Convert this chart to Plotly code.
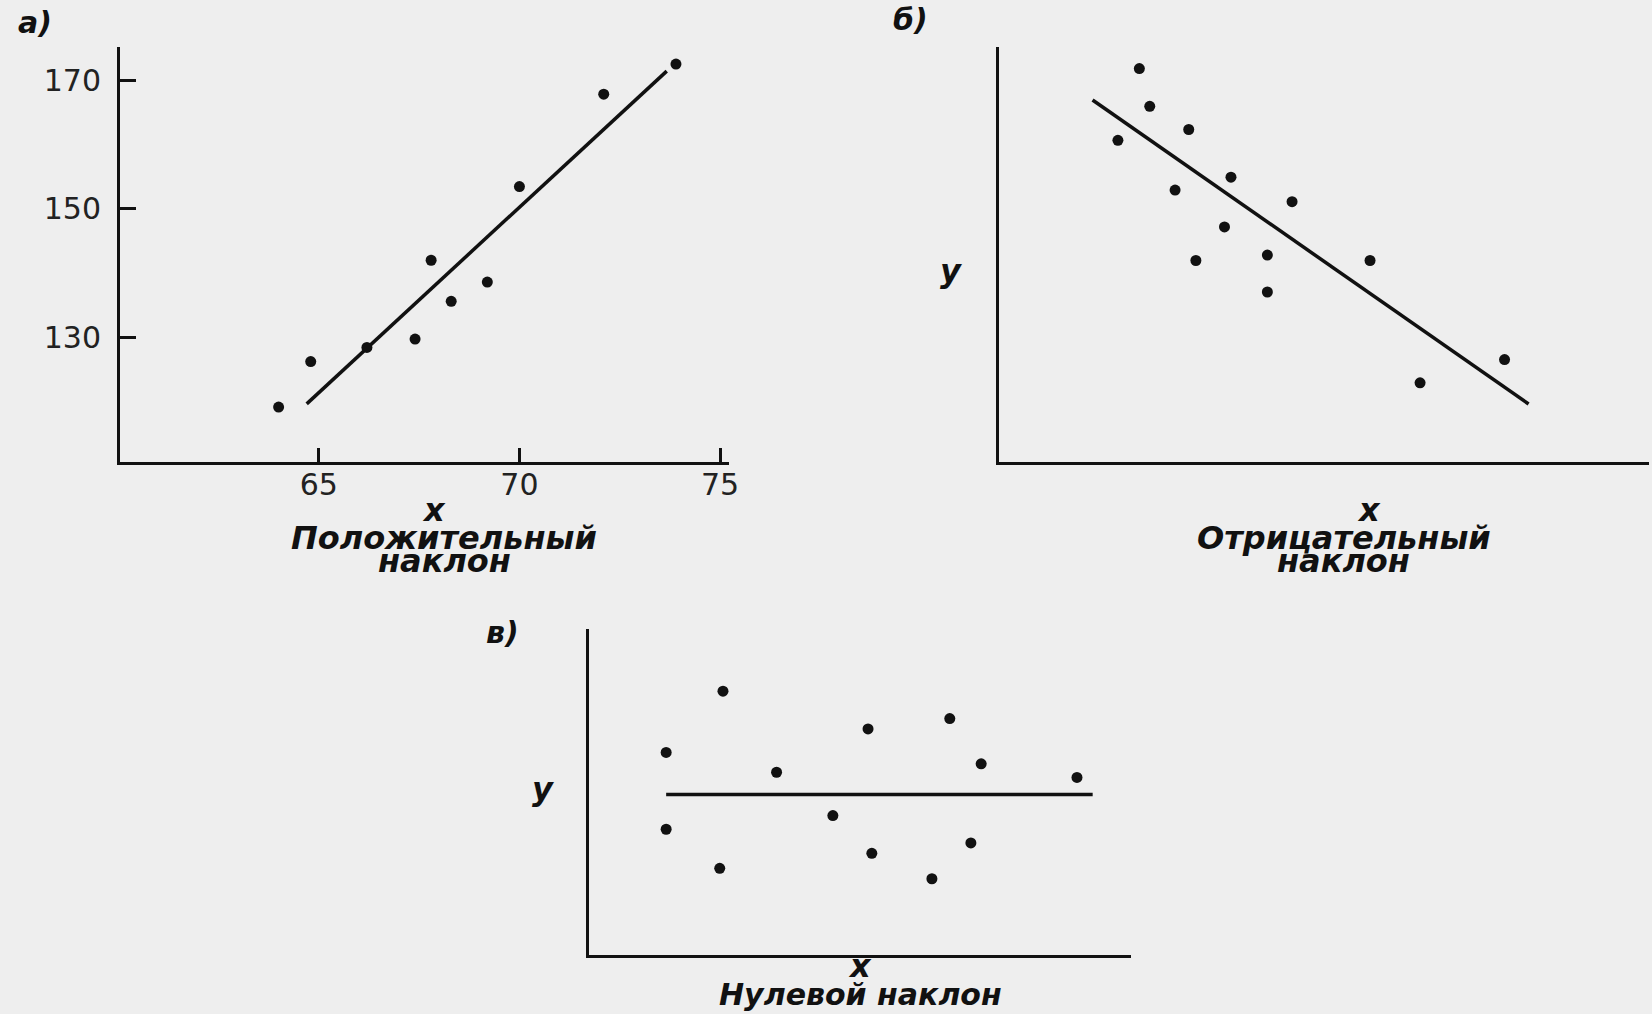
import plotly.graph_objects as go

# ---- data ----
# Panel а) positive slope
a_x = [64.0, 64.8, 66.2, 67.4, 67.8, 68.3, 69.2, 70.0, 72.1, 73.9]
a_y = [119.1, 126.2, 128.4, 129.7, 142.0, 135.6, 138.6, 153.5, 167.9, 172.6]
a_line_x = [64.7, 73.67]
a_line_y = [119.6, 171.5]
a_xticks = [65, 70, 75]
a_yticks = [130, 150, 170]

# Panel б) negative slope (arbitrary units)
b_x = [21.6, 23.2, 18.3, 29.2, 35.7, 27.1, 45.1, 34.7, 30.3, 41.3, 41.3, 57.1, 64.8, 77.8]
b_y = [94.9, 85.8, 77.6, 80.2, 68.7, 65.6, 62.8, 56.7, 48.6, 49.9, 41.0, 48.6, 19.1, 24.7]
b_line_x = [14.4, 81.5]
b_line_y = [87.3, 14.0]

# Panel в) zero slope (arbitrary units)
c_x = [24.7, 14.2, 34.6, 51.5, 66.6, 72.4, 90.1, 14.2, 45.0, 24.1, 52.2, 70.5, 63.3]
c_y = [80.9, 62.1, 56.0, 69.3, 72.5, 58.6, 54.4, 38.5, 42.7, 26.5, 31.1, 34.3, 23.3]
c_line_x = [14.2, 93.0]
c_line_y = [49.2, 49.2]

FONT = "DejaVu Sans"
INK = "#111111"
BG = "#eeeeee"

W, H = 1663, 1014
K = 0.9935  # horizontal compensation for the page capture


def px_x(p):
    return p / K / W


def px_y(p):
    return 1 - p / H


fig = go.Figure()


def add_panel(xs, ys, lx, ly, xa, ya):
    fig.add_trace(go.Scatter(x=lx, y=ly, mode="lines", xaxis=xa, yaxis=ya,
                             line=dict(color=INK, width=3.5), hoverinfo="skip"))
    fig.add_trace(go.Scatter(x=xs, y=ys, mode="markers", xaxis=xa, yaxis=ya,
                             marker=dict(color=INK, size=11), hoverinfo="skip"))


add_panel(a_x, a_y, a_line_x, a_line_y, "x", "y")
add_panel(b_x, b_y, b_line_x, b_line_y, "x2", "y2")
add_panel(c_x, c_y, c_line_x, c_line_y, "x3", "y3")

axis_common = dict(showline=True, linecolor=INK, linewidth=3, showgrid=False,
                   zeroline=False, fixedrange=True)

fig.update_layout(
    width=W, height=H, autosize=False,
    margin=dict(l=0, r=0, t=0, b=0),
    paper_bgcolor=BG, plot_bgcolor=BG,
    showlegend=False,
    font=dict(family=FONT, color=INK),
    xaxis=dict(domain=[px_x(120), px_x(729)], range=[60.05, 75.23], anchor="y",
               tickvals=a_xticks, ticktext=[str(v) for v in a_xticks],
               ticks="inside", ticklen=14, tickwidth=2.5, tickcolor=INK,
               tickfont=dict(size=30, family=FONT, color="#222222"),
               ticklabelstandoff=-6, **axis_common),
    yaxis=dict(domain=[px_y(462), px_y(47.4)], range=[110.53, 175.2], anchor="x",
               tickvals=a_yticks, ticktext=[str(v) for v in a_yticks],
               ticks="inside", ticklen=16, tickwidth=2.5, tickcolor=INK,
               tickfont=dict(size=30, family=FONT, color="#222222"),
               ticklabelstandoff=10, **axis_common),
    xaxis2=dict(domain=[px_x(998.5), px_x(1648)], range=[0, 100], anchor="y2",
                showticklabels=False, ticks="", **axis_common),
    yaxis2=dict(domain=[px_y(462), px_y(47.4)], range=[0, 100], anchor="x2",
                showticklabels=False, ticks="", **axis_common),
    xaxis3=dict(domain=[px_x(589), px_x(1130)], range=[0, 100], anchor="y3",
                showticklabels=False, ticks="", **axis_common),
    yaxis3=dict(domain=[px_y(954.6), px_y(629)], range=[0, 100], anchor="x3",
                showticklabels=False, ticks="", **axis_common),
)

labels = [
    ("а)", 35, 22, 30, "middle"),
    ("x", 434, 510, 32, "middle"),
    ("Положительный", 444, 538, 32, "middle"),
    ("наклон", 444, 561, 32, "middle"),
    ("б)", 910, 20, 30, "middle"),
    ("y", 951, 271, 32, "middle"),
    ("x", 1368, 510, 32, "middle"),
    ("Отрицательный", 1343, 538, 32, "middle"),
    ("наклон", 1343, 561, 32, "middle"),
    ("в)", 502, 632, 30, "middle"),
    ("y", 543, 789, 32, "middle"),
    ("x", 860, 966, 32, "middle"),
    ("Нулевой наклон", 860, 1014, 30, "bottom"),
]
for txt, x, y, s, ya in labels:
    fig.add_annotation(text=f"<b><i>{txt}</i></b>", x=px_x(x), y=px_y(y),
                       xref="paper", yref="paper",
                       xanchor="center", yanchor=ya, showarrow=False,
                       font=dict(family=FONT, size=s, color=INK))

fig.write_html("out.html",
               config={"responsive": False, "displayModeBar": False},
               post_script="document.documentElement.style.overflow='hidden';"
                           "document.body.style.margin='0';document.body.style.overflow='hidden';")
